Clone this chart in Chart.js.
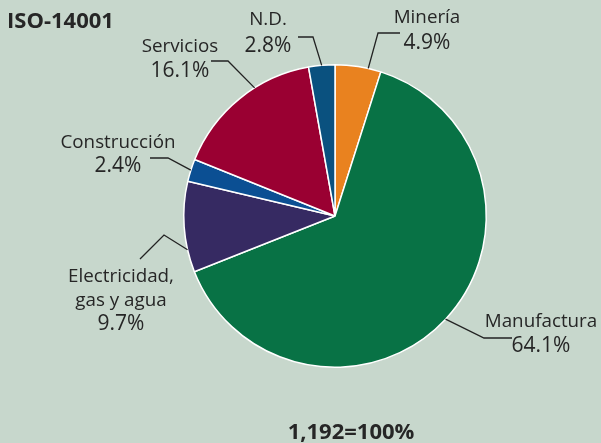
<!DOCTYPE html>
<html>
<head>
<meta charset="utf-8">
<script src="https://cdn.jsdelivr.net/npm/chart.js@4/dist/chart.umd.min.js"></script>
<style>
html,body{margin:0;padding:0;background:#c7d7cc;}
#wrap{position:relative;width:601px;height:443px;}
</style>
</head>
<body>
<div id="wrap"><canvas id="c" width="601" height="443"></canvas></div>
<script>
// ---- data ----
const categories = ['Minería', 'Manufactura', 'Electricidad,\ngas y agua', 'Construcción', 'Servicios', 'N.D.'];
const shares = [4.9, 64.1, 9.7, 2.4, 16.1, 2.8];
const titleText = 'ISO-14001';
const totalText = '1,192=100%';

// ---- style ----
const colors = ['#e9821f', '#087245', '#362a62', '#0b4f93', '#9a0032', '#0a517f'];
const FONT = '"Open Sans", "Noto Sans", sans-serif';
const TEXT_COLOR = '#262626';

// label layout: text center x, first line y, line height, leader elbow and end
const labelLayout = [
  {tx: 427, ty: 18, lh: 25, elbow: [378, 33], end: [400, 33], startFrac: 0.72},
  {tx: 541, ty: 322, lh: 24, elbow: [484, 338], end: [512, 338]},
  {tx: 121, ty: 277, lh: 23.5, elbow: [164, 235], end: [140, 259], startFrac: 0.25},
  {tx: 118, ty: 143, lh: 23, elbow: [168, 158], end: [150, 158]},
  {tx: 180, ty: 47, lh: 24, elbow: [228, 61], end: [211, 61], startFrac: 0.62},
  {tx: 268, ty: 20, lh: 26, elbow: [313, 37], end: [298, 37]}
];

const labelPlugin = {
  id: 'labels',
  afterDraw(chart) {
    const ctx = chart.ctx;
    const meta = chart.getDatasetMeta(0);
    ctx.save();
    meta.data.forEach((arc, i) => {
      const L = labelLayout[i];
      const p = arc.getProps(['x', 'y', 'startAngle', 'endAngle', 'outerRadius'], true);
      const f = L.startFrac != null ? L.startFrac : 0.5;
      const a = p.startAngle + (p.endAngle - p.startAngle) * f;
      const sx = p.x + Math.cos(a) * p.outerRadius;
      const sy = p.y + Math.sin(a) * p.outerRadius;
      ctx.strokeStyle = '#222';
      ctx.lineWidth = 1.3;
      ctx.beginPath();
      ctx.moveTo(sx, sy);
      ctx.lineTo(L.elbow[0], L.elbow[1]);
      ctx.lineTo(L.end[0], L.end[1]);
      ctx.stroke();
      const names = categories[i].split('\n');
      const lines = names.concat([shares[i].toFixed(1) + '%']);
      ctx.fillStyle = TEXT_COLOR;
      ctx.textAlign = 'center';
      ctx.textBaseline = 'middle';
      lines.forEach((t, k) => {
        ctx.font = (k < names.length ? '500 18.8px ' : '500 21px ') + FONT;
        ctx.fillText(t, L.tx, L.ty + k * L.lh);
      });
    });
    ctx.font = 'bold 22px ' + FONT;
    ctx.textAlign = 'left';
    ctx.textBaseline = 'middle';
    ctx.fillStyle = TEXT_COLOR;
    ctx.fillText(titleText, 7, 22);
    ctx.textAlign = 'center';
    ctx.fillText(totalText, 351, 433);
    ctx.restore();
  }
};

new Chart(document.getElementById('c'), {
  type: 'pie',
  data: {
    labels: categories,
    datasets: [{
      data: shares,
      backgroundColor: colors,
      borderColor: '#ffffff',
      borderWidth: 1.5
    }]
  },
  options: {
    responsive: false,
    animation: false,
    layout: {padding: {left: 183, right: 114, top: 64, bottom: 75}},
    plugins: {legend: {display: false}, tooltip: {enabled: false}}
  },
  plugins: [labelPlugin]
});
</script>
</body>
</html>
